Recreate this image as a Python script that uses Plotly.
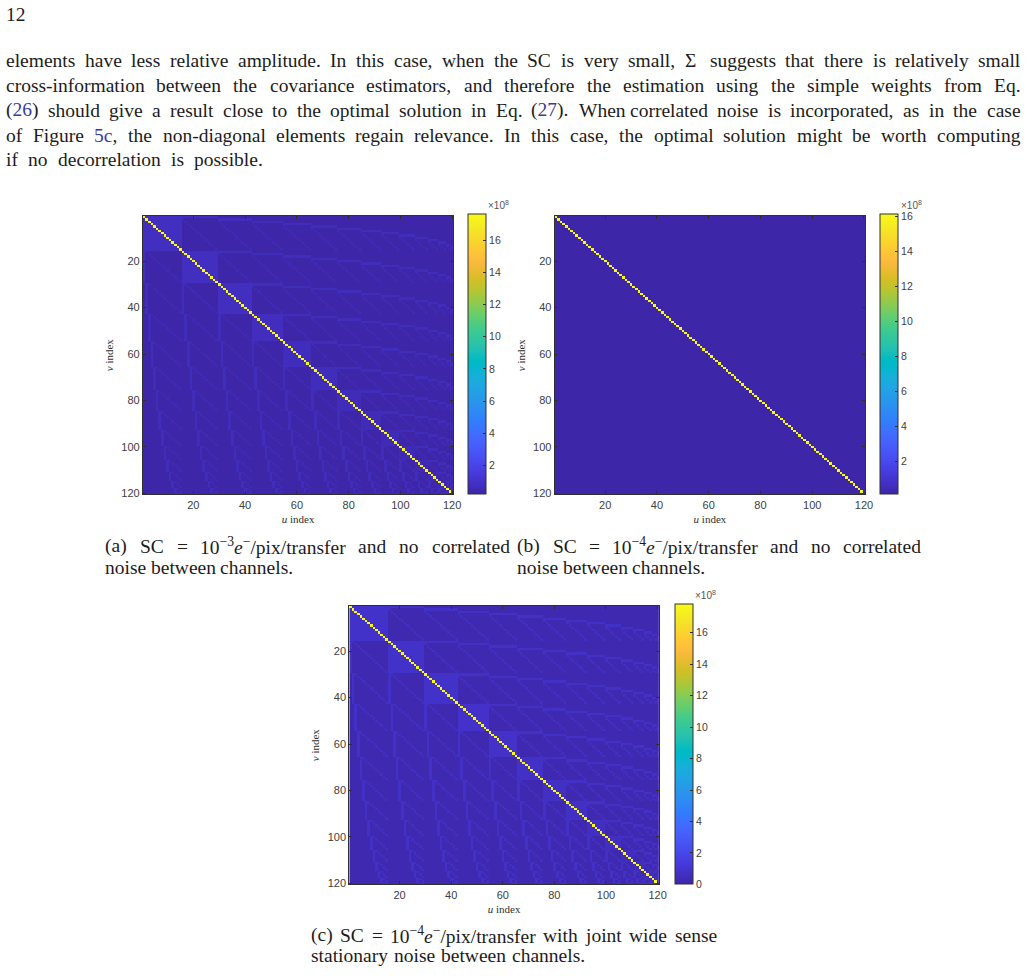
import re
import numpy as np
import plotly.graph_objects as go

# Channel count; the 120 baselines are the channel pairs (a, b) with a < b.
CHANNELS = 16

# Covariance levels, in units of 1e8.
LEVELS_A = dict(base=0.20, band=0.66, trail=0.50, block=[0.72, 0.72, 0.72, 0.70, 0.68, 0.66, 0.62, 0.58, 0.54, 0.50, 0.48, 0.46, 0.44, 0.42, 0.42], diag=17.6)
LEVELS_B = dict(base=0.10, band=0.12, trail=0.11, block=[0.13, 0.13, 0.13, 0.13, 0.13, 0.13, 0.12, 0.12, 0.12, 0.12, 0.12, 0.12, 0.12, 0.12, 0.12], diag=16.1)
LEVELS_C = dict(base=0.20, band=0.72, trail=0.56, block=[0.82, 0.82, 0.82, 0.80, 0.78, 0.74, 0.70, 0.64, 0.60, 0.56, 0.52, 0.50, 0.48, 0.46, 0.46], diag=17.8)

CBAR_TICKS_A = [2, 4, 6, 8, 10, 12, 14, 16]
CBAR_TICKS_C = [0, 2, 4, 6, 8, 10, 12, 14, 16]
RANGE_A = (0.2, 17.6)
RANGE_B = (0.1, 16.1)
RANGE_C = (0.0, 17.8)
AXIS_TICKS = [20, 40, 60, 80, 100, 120]

PARULA = [
    (0.2422, 0.1504, 0.6603), (0.2504, 0.1650, 0.7076), (0.2578, 0.1818, 0.7511), (0.2647, 0.1978, 0.7952),
    (0.2706, 0.2147, 0.8364), (0.2751, 0.2342, 0.8710), (0.2783, 0.2559, 0.8991), (0.2803, 0.2782, 0.9221),
    (0.2813, 0.3006, 0.9414), (0.2810, 0.3228, 0.9579), (0.2795, 0.3447, 0.9717), (0.2760, 0.3667, 0.9829),
    (0.2699, 0.3892, 0.9906), (0.2602, 0.4123, 0.9952), (0.2440, 0.4358, 0.9988), (0.2206, 0.4603, 0.9973),
    (0.1963, 0.4847, 0.9892), (0.1834, 0.5074, 0.9798), (0.1786, 0.5289, 0.9682), (0.1764, 0.5499, 0.9520),
    (0.1687, 0.5703, 0.9359), (0.1540, 0.5902, 0.9218), (0.1460, 0.6091, 0.9079), (0.1380, 0.6276, 0.8973),
    (0.1248, 0.6459, 0.8883), (0.1113, 0.6635, 0.8763), (0.0952, 0.6798, 0.8598), (0.0689, 0.6948, 0.8394),
    (0.0297, 0.7082, 0.8163), (0.0036, 0.7203, 0.7917), (0.0067, 0.7312, 0.7660), (0.0433, 0.7411, 0.7394),
    (0.0964, 0.7500, 0.7120), (0.1408, 0.7584, 0.6842), (0.1717, 0.7670, 0.6554), (0.1938, 0.7758, 0.6251),
    (0.2161, 0.7843, 0.5923), (0.2470, 0.7918, 0.5567), (0.2906, 0.7973, 0.5188), (0.3406, 0.8008, 0.4789),
    (0.3909, 0.8029, 0.4354), (0.4456, 0.8024, 0.3909), (0.5044, 0.7993, 0.3480), (0.5616, 0.7942, 0.3045),
    (0.6174, 0.7876, 0.2612), (0.6720, 0.7793, 0.2227), (0.7242, 0.7698, 0.1910), (0.7738, 0.7598, 0.1646),
    (0.8203, 0.7498, 0.1535), (0.8634, 0.7406, 0.1596), (0.9035, 0.7330, 0.1774), (0.9393, 0.7288, 0.2100),
    (0.9728, 0.7298, 0.2394), (0.9956, 0.7434, 0.2371), (0.9970, 0.7659, 0.2199), (0.9952, 0.7893, 0.2028),
    (0.9892, 0.8136, 0.1885), (0.9786, 0.8386, 0.1766), (0.9676, 0.8639, 0.1643), (0.9610, 0.8890, 0.1537),
    (0.9597, 0.9135, 0.1423), (0.9628, 0.9373, 0.1265), (0.9691, 0.9606, 0.1064), (0.9769, 0.9839, 0.0805),
]
COLORSCALE = [[i / (len(PARULA) - 1), f"rgb({r*255:.0f},{g*255:.0f},{b*255:.0f})"] for i, (r, g, b) in enumerate(PARULA)]

W, H = 1035, 978
INK = "#1c1c1c"
LINK = "#3a3a9e"
AX = "#303030"
SERIF = "Liberation Serif"
SANS = "Liberation Sans"
TEXT_SIZE = 19.5

PAIRS = [(a, b) for a in range(CHANNELS) for b in range(a + 1, CHANNELS)]


def covariance(levels):
    """Baselines covary only when they share a channel."""
    n = len(PAIRS)
    z = np.full((n, n), levels["base"], dtype=float)
    for i, (a, b) in enumerate(PAIRS):
        for j, (c, d) in enumerate(PAIRS):
            if i == j:
                z[i, j] = levels["diag"]
            elif a == c:
                z[i, j] = levels["block"][a]
            elif b == d:
                z[i, j] = levels["trail"]
            elif b == c or a == d:
                z[i, j] = levels["band"]
    return z


fig = go.Figure()

PANELS = [
    dict(z=covariance(LEVELS_A), rng=RANGE_A, ticks=CBAR_TICKS_A, box=(144, 457, 217, 497), bar=(472, 490), exp=(490, 206), ax=""),
    dict(z=covariance(LEVELS_B), rng=RANGE_B, ticks=CBAR_TICKS_A, box=(559, 872, 217, 497), bar=(887, 905), exp=(906, 206), ax="2"),
    dict(z=covariance(LEVELS_C), rng=RANGE_C, ticks=CBAR_TICKS_C, box=(352, 664, 609, 889), bar=(680, 698), exp=(698, 598), ax="3"),
]

cells = list(range(1, 121))
annotations = []
layout_axes = {}
for p in PANELS:
    x0, x1, y0, y1 = p["box"]
    fig.add_trace(go.Heatmap(
        z=p["z"], x=cells, y=cells, xaxis="x" + p["ax"], yaxis="y" + p["ax"],
        zmin=p["rng"][0], zmax=p["rng"][1], colorscale=COLORSCALE,
        hoverinfo="skip",
        colorbar=dict(
            x=p["bar"][0] / W, xanchor="left", xpad=0, ypad=0,
            y=1 - y1 / H, yanchor="bottom",
            lenmode="pixels", len=y1 - y0,
            thicknessmode="pixels", thickness=p["bar"][1] - p["bar"][0],
            tickvals=p["ticks"], ticks="inside", ticklen=3, tickwidth=1, tickcolor=AX,
            tickfont=dict(family=SANS, size=10.5, color="#404040"),
            outlinecolor=AX, outlinewidth=1,
        ),
    ))
    axis_common = dict(
        tickvals=AXIS_TICKS, ticks="inside", ticklen=3, tickwidth=1, tickcolor=AX,
        showline=True, linecolor=AX, linewidth=1, mirror="ticks", showgrid=False, zeroline=False,
        tickfont=dict(family=SANS, size=11, color="#404040"),
    )
    layout_axes["xaxis" + p["ax"]] = dict(
        axis_common, domain=[x0 / W, x1 / W], range=[0.5, 120.5], anchor="y" + p["ax"],
        title=dict(text="<i>u</i> index", standoff=5, font=dict(family=SERIF, size=11, color="#303030")),
    )
    layout_axes["yaxis" + p["ax"]] = dict(
        axis_common, domain=[1 - y1 / H, 1 - y0 / H], range=[120.5, 0.5], anchor="x" + p["ax"],
        title=dict(text="<i>v</i> index", standoff=5, font=dict(family=SERIF, size=11, color="#303030")),
    )
    annotations.append(dict(
        x=p["exp"][0] / W, y=1 - p["exp"][1] / H, xref="paper", yref="paper",
        xanchor="left", yanchor="middle", showarrow=False, text="×10<sup>8</sup>",
        font=dict(family=SANS, size=10, color="#555555"),
    ))

# Em widths of the serif face, used to space words across a justified line.
WIDTHS = dict.fromkeys("iljt.,:;'", 278)
WIDTHS.update(dict.fromkeys("frI()-/", 333))
WIDTHS.update(dict.fromkeys("s", 389))
WIDTHS.update(dict.fromkeys("acez", 444))
WIDTHS.update(dict.fromkeys("mMΣ", 778))
WIDTHS.update(dict.fromkeys("wW", 722))
WIDTHS.update(dict.fromkeys("FSEP", 556))
WIDTHS.update(dict.fromkeys("C", 667))


def word_width(word, size):
    total = 0.0
    for part in re.split(r"(<sup>.*?</sup>)", word):
        scale = 0.7 if part.startswith("<sup>") else 1.0
        plain = re.sub(r"<[^>]+>", "", part)
        total += sum(WIDTHS.get(ch, 500) for ch in plain) * scale
    return total * size / 1000


def justified(line, left, right, baseline, size=TEXT_SIZE):
    """Place each word of a line separately so that it runs from left to right."""
    words = re.split(r" (?![^<]*>)", line)
    widths = [word_width(w, size) for w in words]
    gap = (right - left - sum(widths)) / max(len(words) - 1, 1)
    x = left
    for word, width in zip(words, widths):
        annotations.append(dict(
            x=x / W, y=1 - (baseline - 0.29 * size) / H, xref="paper", yref="paper",
            xanchor="left", yanchor="middle", showarrow=False, text=word, borderpad=0, borderwidth=0,
            font=dict(family=SERIF, size=size, color=INK),
        ))
        x += width + gap


def link(s):
    return f'<span style="color:{LINK}">{s}</span>'


BODY = [
    ("elements have less relative amplitude. In this case, when the SC is very small, Σ suggests that there is relatively small", 6, 1028, 66),
    ("cross-information between the covariance estimators, and therefore the estimation using the simple weights from Eq.", 6, 1028, 91.3),
    (f"({link('26')}) should give a result close to the optimal solution in Eq. ({link('27')}). When correlated noise is incorporated, as in the case", 6, 1028, 116.3),
    (f"of Figure {link('5c')}, the non-diagonal elements regain relevance. In this case, the optimal solution might be worth computing", 6, 1028, 141.5),
    ("if no decorrelation is possible.", 6, 265, 166),
    ("12", 6, 26, 20),
]
CAPTIONS = [
    ("(a) SC = 10<sup>−3</sup><i>e</i><sup>−</sup>/pix/transfer and no correlated", 106, 513, 554.5),
    ("noise between channels.", 106, 295, 576.5),
    ("(b) SC = 10<sup>−4</sup><i>e</i><sup>−</sup>/pix/transfer and no correlated", 521, 928, 554.5),
    ("noise between channels.", 521, 711, 576.5),
    ("(c) SC = 10<sup>−4</sup><i>e</i><sup>−</sup>/pix/transfer with joint wide sense", 313, 722, 945.5),
    ("stationary noise between channels.", 313, 590, 966.5),
]
for row in BODY + CAPTIONS:
    justified(*row)

fig.update_layout(
    width=W, height=H, margin=dict(l=0, r=0, t=0, b=0),
    paper_bgcolor="white", plot_bgcolor="white", showlegend=False,
    annotations=annotations, **layout_axes,
)
fig.write_html("out.html", config=dict(displayModeBar=False))
